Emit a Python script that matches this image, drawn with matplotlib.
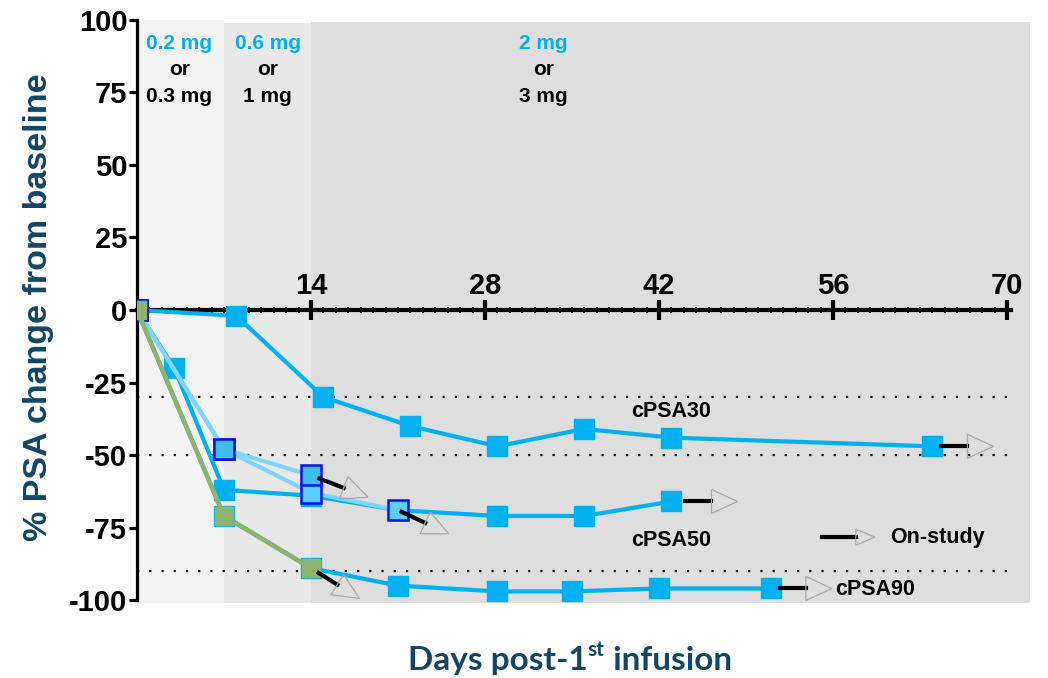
import matplotlib
matplotlib.use('Agg')
import matplotlib.pyplot as plt
import numpy as np
from matplotlib.patches import Polygon

plt.rcParams['axes.unicode_minus'] = False

# days post first infusion / % PSA change, one list per patient
p1_days = [0, 8, 15, 22, 29, 36, 43, 64]
p1_vals = [0, -2, -30, -40, -47, -41, -44, -47]
p2_days = [0, 3, 7, 14, 21, 29, 36, 43]
p2_vals = [0, -20, -62, -64, -69, -71, -71, -66]
p3_days = [0, 7, 14, 21, 29, 35, 42, 51]
p3_vals = [0, -71, -89, -95, -97, -97, -96, -96]
p5_days = [0, 7, 14]
p5_vals = [0, -48, -57]
p6_days = [0, 7, 14, 21]
p6_vals = [0, -48, -63, -69]
p4_days = [0, 7, 14]
p4_vals = [0, -71, -89]

thresholds = [-30, -50, -90]
threshold_labels = ["cPSA30", "cPSA50", "cPSA90"]
dose_periods = [(0, 7), (7, 14), (14, 71.85)]
dose_low = ["0.2 mg", "0.6 mg", "2 mg"]
dose_high = ["0.3 mg", "1 mg", "3 mg"]
x_ticks = [14, 28, 42, 56, 70]
y_ticks = [-100, -75, -50, -25, 0, 25, 50, 75, 100]

BLUE = '#00b0f0'
LIGHT = '#80d5f6'
GREEN = '#8db46e'
NAVY = '#134565'

fig = plt.figure(figsize=(10.48, 6.78), dpi=100)
ax = fig.add_axes([137 / 1048, 1 - 603 / 678, 893 / 1048, 586 / 678])
ax.set_xlim(0, 71.85)
ax.set_ylim(-101, 101)
ax.patch.set_alpha(0)

# shaded dosing periods
for (a, b), c, top in zip(dose_periods, ['#f3f3f3', '#e8e8e8', '#dedede'], [100, 99, 99.3]):
    ax.fill_between([a, b], -101, top, color=c, lw=0, zorder=0)

for t in thresholds:
    ax.hlines(t, 0, 70, colors='black', linestyles=(0, (1, 4.5)), lw=1.6, zorder=1)

ms = 14
ax.plot(p1_days, p1_vals, color=BLUE, lw=3, marker='s', ms=ms, mec=BLUE, zorder=3)
ax.plot(p2_days, p2_vals, color=BLUE, lw=3, marker='s', ms=ms, mec=BLUE, zorder=3)
ax.plot(p3_days, p3_vals, color=BLUE, lw=3, marker='s', ms=ms, mec=BLUE, zorder=3)
ax.plot(p6_days, p6_vals, color=LIGHT, lw=3, marker='s', ms=ms, mfc='#5bcfff', mec='#1010f0', mew=1.8, zorder=4)
ax.plot(p5_days, p5_vals, color=LIGHT, lw=3, marker='s', ms=ms, mfc='#40bde9', mec='#1010f0', mew=1.8, zorder=4)
ax.plot(p4_days, p4_vals, color=GREEN, lw=3.3, marker='s', ms=13, mec=GREEN, zorder=5)


def on_study(day, val, angle, start=9, length=26, head=26, half=12):
    # black dash + hollow arrow head, drawn in pixel space from a point
    p = ax.transData.transform((day, val))
    d = np.array([np.cos(np.radians(angle)), np.sin(np.radians(angle))])
    n = np.array([-d[1], d[0]])
    a = p + d * start
    b = p + d * (start + length)
    inv = ax.transData.inverted()
    (x0, y0), (x1, y1) = inv.transform([a, b])
    ax.plot([x0, x1], [y0, y1], color='black', lw=3, zorder=6)
    tri = inv.transform([b + n * half, b + d * head, b - n * half])
    ax.add_patch(Polygon(tri, closed=True, fill=False, ec='#a8a8a8', lw=0.9, zorder=6))


on_study(p1_days[-1], p1_vals[-1], 0)
on_study(p2_days[-1], p2_vals[-1], 0, start=14)
on_study(p3_days[-1], p3_vals[-1], 0)
on_study(p5_days[-1], p5_vals[-1], -21)
on_study(p6_days[-1], p6_vals[-1], -25, start=4)
on_study(p4_days[-1], p4_vals[-1], -32, length=22)

# legend
on_study(55.1, -78.3, 0, start=0, length=34, head=19, half=8)
ax.text(60.6, -78.3, "On-study", fontsize=15.5, fontweight='bold', va='center', ha='left',
        family='Liberation Sans')

ax.text(43, -35, threshold_labels[0], fontsize=15.5, fontweight='bold', ha='center', va='center',
        family='Liberation Sans')
ax.text(43, -79.5, threshold_labels[1], fontsize=15.5, fontweight='bold', ha='center', va='center',
        family='Liberation Sans')
ax.text(56.2, -96.5, threshold_labels[2], fontsize=15.5, fontweight='bold', ha='left', va='center',
        family='Liberation Sans')

for (a, b), lo, hi, xc in zip(dose_periods, dose_low, dose_high, [3.4, 10.5, 32.7]):
    ax.text(xc, 91.8, lo, color=BLUE, fontsize=15, fontweight='bold', ha='center', va='center',
            family='Liberation Sans')
    ax.text(xc, 82.8, "or", color='black', fontsize=15, fontweight='bold', ha='center', va='center',
            family='Liberation Sans')
    ax.text(xc, 73.5, hi, color='black', fontsize=15, fontweight='bold', ha='center', va='center',
            family='Liberation Sans')

# axes
for s in ['bottom', 'right']:
    ax.spines[s].set_visible(False)
ax.spines['left'].set_bounds(-100, 100)
ax.spines['left'].set_linewidth(2.3)
ax.spines['top'].set_position(('data', 0))
ax.spines['top'].set_bounds(0, 70.3)
ax.spines['top'].set_linewidth(3)
ax.spines['top'].set_zorder(2.5)

ax.xaxis.set_ticks_position('top')
ax.set_xticks(x_ticks)
ax.set_xticks(np.arange(1, 71), minor=True)
ax.tick_params(axis='x', which='major', direction='inout', length=15, width=3, pad=0)
ax.tick_params(axis='x', which='minor', direction='inout', length=4, width=1.3)
ax.set_yticks(y_ticks)
ax.tick_params(axis='y', length=6, width=2.3, pad=1)
for lab in ax.get_xticklabels() + ax.get_yticklabels():
    lab.set_fontsize(21)
    lab.set_fontweight('bold')
    lab.set_family('Liberation Sans')

fig.text(39 / 1048, 1 - 307 / 678, "% PSA change from baseline", rotation=90, ha='center', va='center',
         fontsize=24.5, fontweight='bold', color=NAVY, family='Liberation Sans')

t1 = fig.text(408 / 1048, 1 - 670 / 678, "Days post-1", ha='left', va='baseline', fontsize=24,
              fontweight='bold', color=NAVY, family='Lato')
t2 = ax.annotate("st", xy=(1, 0.5), xycoords=t1, ha='left', va='bottom', fontsize=15,
                 fontweight='bold', color=NAVY, family='Lato', annotation_clip=False)
ax.annotate(" infusion", xy=(1, 0), xycoords=(t2, t1), ha='left', va='bottom', fontsize=24,
            fontweight='bold', color=NAVY, family='Lato', annotation_clip=False)

fig.savefig('out.png', dpi=100)
